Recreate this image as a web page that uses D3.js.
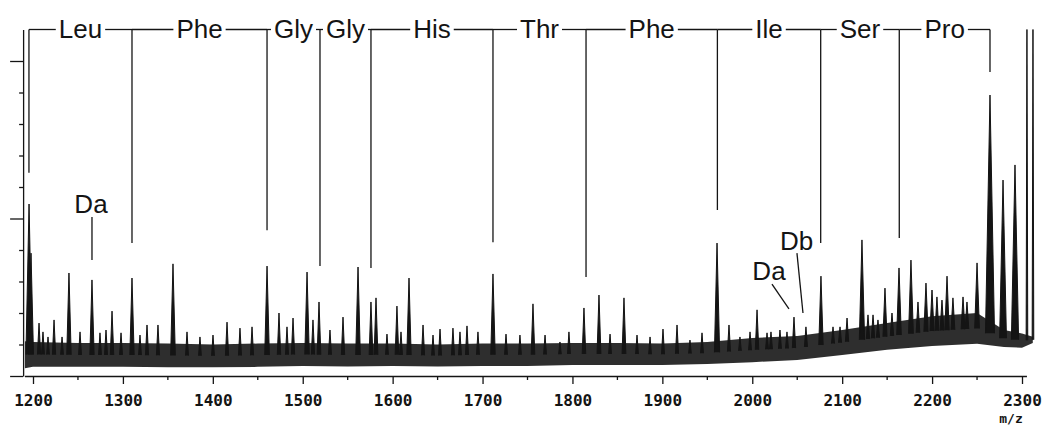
<!DOCTYPE html>
<html>
<head>
<meta charset="utf-8">
<script src="https://cdn.jsdelivr.net/npm/d3@7"></script>
<style>
  html, body { margin: 0; padding: 0; background: #fff; }
  svg { display: block; }
</style>
</head>
<body>
<svg id="chart"></svg>
<script>
// sequence ladder: bracket positions (m/z), where each bracket line stops, residue names
const ladderMz = [1195.5, 1310.1, 1460.3, 1519.2, 1575.9, 1711.6, 1815.1, 1961.2, 2076.1, 2163.5, 2264.4]
const ladderEnd = [64.5, 42.2, 46.3, 34.9, 34.3, 42.5, 31.4, 52.7, 42.2, 43.8, 96.5]
const residues = ['Leu', 'Phe', 'Gly', 'Gly', 'His', 'Thr', 'Phe', 'Ile', 'Ser', 'Pro']

// peaks (m/z, relative intensity)
const peakMz = [1195.6, 1197.8, 1206.7, 1211.1, 1216.7, 1223.4, 1232.3, 1240.0, 1252.3, 1265.6,
  1274.5, 1281.2, 1287.9, 1297.9, 1310.1, 1319.0, 1326.8, 1339.0, 1355.7, 1371.3,
  1385.7, 1400.2, 1415.8, 1430.2, 1443.6, 1460.3, 1473.6, 1482.5, 1489.2, 1504.8,
  1511.4, 1518.1, 1530.3, 1544.8, 1561.5, 1575.9, 1581.5, 1593.7, 1604.8, 1609.3,
  1618.2, 1633.8, 1644.9, 1652.7, 1667.1, 1674.9, 1682.7, 1694.9, 1711.6, 1726.1,
  1741.6, 1756.1, 1769.5, 1786.1, 1796.1, 1812.8, 1829.5, 1841.8, 1857.3, 1871.8,
  1886.3, 1900.7, 1916.3, 1930.7, 1944.1, 1960.8, 1974.1, 1986.3, 1997.5, 2005.3,
  2016.4, 2020.8, 2030.8, 2038.6, 2046.4, 2059.7, 2076.4, 2089.8, 2097.6, 2105.4,
  2122.0, 2128.7, 2134.3, 2139.8, 2147.6, 2155.4, 2163.2, 2176.5, 2184.3, 2193.2,
  2199.9, 2205.4, 2211.0, 2216.6, 2223.2, 2234.4, 2238.8, 2250.0, 2264.4, 2278.9,
  2292.2, 2305.5, 2312.2]
const peakInt = [54.6, 39.0, 16.8, 14.0, 12.4, 17.8, 12.4, 32.7, 14.0, 30.5,
  13.7, 14.6, 20.6, 13.7, 31.1, 13.0, 16.2, 16.2, 35.6, 14.0,
  12.4, 13.0, 17.1, 15.2, 15.6, 34.9, 20.0, 15.6, 18.4, 33.0,
  17.8, 23.5, 14.6, 18.7, 34.6, 23.5, 24.8, 13.3, 22.2, 14.0,
  31.1, 16.2, 13.0, 14.9, 15.2, 14.0, 15.9, 14.0, 32.4, 13.3,
  13.0, 22.9, 13.0, 10.8, 14.0, 21.6, 25.7, 13.3, 24.8, 13.0,
  12.4, 14.9, 16.2, 11.4, 13.7, 42.2, 16.2, 12.4, 14.0, 21.0,
  13.7, 14.0, 14.6, 14.0, 18.7, 15.6, 31.7, 15.6, 15.6, 18.4,
  43.2, 19.4, 19.4, 17.8, 27.9, 20.0, 34.3, 36.8, 23.5, 29.5,
  27.3, 25.1, 24.1, 31.7, 24.8, 25.1, 23.5, 35.9, 89.2, 62.2,
  67.0, 110, 110]

// noise band under the peaks: lower and upper edge
const bandMz = [1191, 1200, 1250, 1300, 1350, 1400, 1450, 1500, 1550, 1600, 1650, 1700, 1750,
  1800, 1850, 1900, 1950, 2000, 2050, 2100, 2150, 2200, 2250, 2280, 2300, 2312]
const bandLow = [2.5, 2.9, 2.9, 2.9, 2.8, 2.8, 2.9, 3.2, 3.0, 3.2, 3.0, 3.2, 3.2,
  3.5, 3.5, 3.5, 3.8, 4.4, 5.1, 6.7, 8.3, 9.5, 10.2, 9.2, 9.0, 10.5]
const bandHigh = [11.0, 10.8, 10.5, 10.5, 10.3, 10.0, 10.3, 10.5, 10.3, 10.3, 10.0, 10.3, 10.3,
  10.5, 10.5, 10.3, 10.8, 12.1, 12.7, 14.6, 16.8, 19.0, 20.0, 14.6, 13.5, 12.5]

// Da / Db annotations
const noteText = ['Da', 'Da', 'Db']
const noteMz = [1264.5, 2018.6, 2049.2]
const noteInt = [51.7, 30.5, 40.0]
const pointerFrom = [[1265.6, 50.5], [2021.9, 29.2], [2049.7, 39.0]]
const pointerTo = [[1265.6, 36.8], [2040.8, 21.3], [2056.4, 20.0]]

const xTicks = d3.range(1200, 2301, 100)
const xMinor = d3.range(1250, 2300, 100)
const yTicks = d3.range(0, 101, 10)

const width = 1052
const height = 427
const ink = '#141414'

const x = d3.scaleLinear().domain([1200, 2300]).range([33, 1022])
const y = d3.scaleLinear().domain([0, 110]).range([376, 29.5])

const svg = d3.select('#chart').attr('width', width).attr('height', height)

// noise band
const area = d3.area()
  .x((d) => x(d[0]))
  .y0((d) => y(d[1]))
  .y1((d) => y(d[2]))

svg.append('path')
  .datum(d3.zip(bandMz, bandLow, bandHigh))
  .attr('d', area)
  .attr('fill', '#2e2e2e')

// peaks rise out of the middle of the band
const bandMid = d3.scaleLinear()
  .domain(bandMz)
  .range(bandMz.map((m, i) => (bandLow[i] + bandHigh[i]) / 2))

const line = d3.line()
  .x((d) => x(d[0]))
  .y((d) => y(d[1]))

svg.append('g')
  .selectAll('path')
  .data(d3.zip(peakMz, peakInt))
  .join('path')
  .attr('d', ([m, h]) => {
    const hw = h >= 110 ? 0.9 : 1.0 + 0.045 * h
    const b = bandMid(m)
    return line([[m - hw, b], [m, h], [m + hw, b]])
  })
  .attr('fill', ink)
  .attr('stroke', ink)
  .attr('stroke-width', 1)
  .attr('stroke-linejoin', 'round')

// y axis (no labels)
const yg = svg.append('g')
  .attr('transform', `translate(${x(1189)},0)`)
  .call(d3.axisLeft(y).tickValues(yTicks).tickSize(4).tickSizeOuter(0).tickFormat(''))
yg.selectAll('.tick line').attr('x2', (d) => (d % 50 === 0 ? -13 : -4))
yg.selectAll('path, line').attr('stroke', ink).attr('stroke-width', 1.3)

// x axis
const xg = svg.append('g')
  .attr('transform', `translate(0,${y(0)})`)
  .call(d3.axisBottom(x).tickValues(xTicks).tickSize(8).tickSizeOuter(0).tickFormat(d3.format('d')))
xg.select('.domain').remove()
xg.append('line')
  .attr('x1', x(1191))
  .attr('x2', x(2305.5))
  .attr('y1', 0.5)
  .attr('y2', 0.5)
xg.selectAll('.minor')
  .data(xMinor)
  .join('line')
  .attr('class', 'minor')
  .attr('x1', (d) => x(d))
  .attr('x2', (d) => x(d))
  .attr('y1', 0)
  .attr('y2', 4)
xg.selectAll('line').attr('stroke', ink).attr('stroke-width', 1.3)
xg.selectAll('.tick text')
  .attr('y', 30)
  .attr('dy', 0)
  .style('font-family', '"DejaVu Sans Mono", monospace')
  .style('font-size', '16px')
  .style('font-weight', 'bold')
  .attr('fill', ink)

svg.append('text')
  .attr('x', 1011)
  .attr('y', 423)
  .attr('text-anchor', 'middle')
  .style('font-family', '"DejaVu Sans Mono", monospace')
  .style('font-size', '13px')
  .style('font-weight', 'bold')
  .attr('fill', ink)
  .text('m/z')

// sequence ladder across the top
const topY = y(110)
const lab = svg.append('g')
residues.forEach((r, i) => {
  const x0 = x(ladderMz[i])
  const x1 = x(ladderMz[i + 1])
  const cx = (x0 + x1) / 2
  const t = lab.append('text')
    .attr('x', cx)
    .attr('y', topY + 8.5)
    .attr('text-anchor', 'middle')
    .style('font-family', '"Liberation Sans", Arial, sans-serif')
    .style('font-size', '26px')
    .attr('fill', ink)
    .text(r)
  const w = t.node().getComputedTextLength()
  lab.append('line').attr('x1', x0).attr('x2', cx - w / 2 - 3).attr('y1', topY).attr('y2', topY)
  lab.append('line').attr('x1', cx + w / 2 + 3).attr('x2', x1).attr('y1', topY).attr('y2', topY)
})
lab.selectAll('.bracket')
  .data(d3.zip(ladderMz, ladderEnd))
  .join('line')
  .attr('class', 'bracket')
  .attr('x1', (d) => x(d[0]))
  .attr('x2', (d) => x(d[0]))
  .attr('y1', topY)
  .attr('y2', (d) => y(d[1]))
lab.selectAll('line').attr('stroke', ink).attr('stroke-width', 1.3)

// Da / Db notes
const notes = svg.append('g')
notes.selectAll('text')
  .data(noteText)
  .join('text')
  .attr('x', (d, i) => x(noteMz[i]))
  .attr('y', (d, i) => y(noteInt[i]))
  .attr('text-anchor', 'middle')
  .style('font-family', '"Liberation Sans", Arial, sans-serif')
  .style('font-size', '26px')
  .attr('fill', ink)
  .text((d) => d)
notes.selectAll('line')
  .data(d3.zip(pointerFrom, pointerTo))
  .join('line')
  .attr('x1', (d) => x(d[0][0]))
  .attr('y1', (d) => y(d[0][1]))
  .attr('x2', (d) => x(d[1][0]))
  .attr('y2', (d) => y(d[1][1]))
  .attr('stroke', ink)
  .attr('stroke-width', 1.3)
</script>
</body>
</html>
